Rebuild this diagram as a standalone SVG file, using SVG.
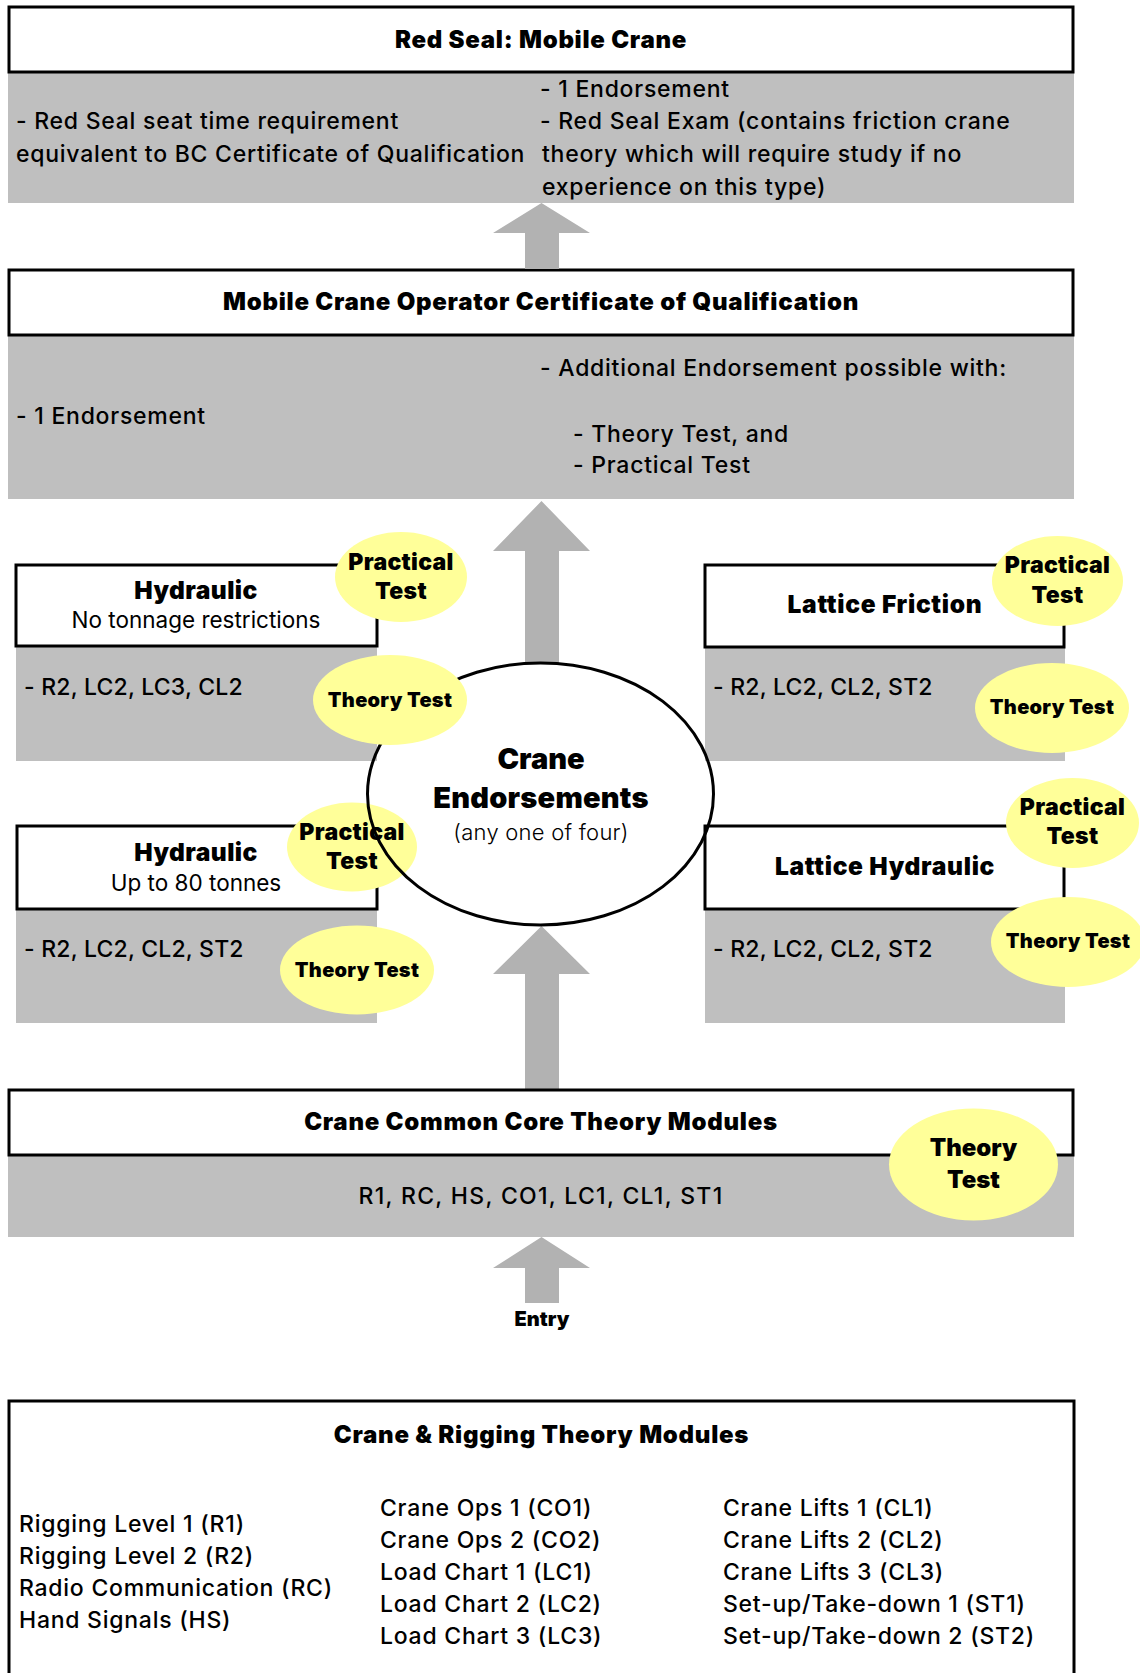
<svg xmlns="http://www.w3.org/2000/svg" width="1140" height="1673" viewBox="0 0 1140 1673">
<style>
.box{fill:#ffffff;stroke:#000000;stroke-width:3}
.gray{fill:#bfbfbf}
.arrow{fill:#b2b2b2}
.pill{fill:#ffff99}
.t{font-family:Inter,"Liberation Sans",sans-serif;font-size:23px;font-weight:500;letter-spacing:0.75px;fill:#000}
.h{font-family:Inter,"Liberation Sans",sans-serif;font-weight:900;font-size:24px;letter-spacing:0.75px;fill:#000}
.hc{text-anchor:middle}
.sub{font-family:Inter,"Liberation Sans",sans-serif;font-weight:900;font-size:24.5px;letter-spacing:0.45px;fill:#000;text-anchor:middle}
.st{font-family:Inter,"Liberation Sans",sans-serif;font-size:22.5px;fill:#000;text-anchor:middle}
.ls{font-family:Inter,"Liberation Sans",sans-serif;font-size:23px;font-weight:500;letter-spacing:0.2px;fill:#000}
.pt{font-family:Inter,"Liberation Sans",sans-serif;font-weight:900;font-size:23px;letter-spacing:0.3px;fill:#000;text-anchor:middle}
.tt{font-family:Inter,"Liberation Sans",sans-serif;font-weight:900;font-size:20px;letter-spacing:0.3px;fill:#000;text-anchor:middle}
</style>
<rect width="1140" height="1673" fill="#ffffff"/>

<g id="red-seal">
<rect class="gray" x="8" y="73" width="1066" height="130"/>
<rect class="box" x="9" y="7" width="1064" height="65"/>
<text class="h hc" x="541" y="48">Red Seal: Mobile Crane</text>
<text class="t" x="16" y="129">- Red Seal seat time requirement</text>
<text class="t" x="16" y="162">equivalent to BC Certificate of Qualification</text>
<text class="t" x="540" y="97">- 1 Endorsement</text>
<text class="t" x="540" y="129">- Red Seal Exam (contains friction crane</text>
<text class="t" x="542" y="162">theory which will require study if no</text>
<text class="t" x="542" y="195">experience on this type)</text>
</g>

<g id="certificate">
<rect class="gray" x="8" y="335" width="1066" height="164"/>
<rect class="box" x="9" y="270" width="1064" height="65"/>
<text class="h hc" x="541" y="310">Mobile Crane Operator Certificate of Qualification</text>
<text class="t" x="16" y="424">- 1 Endorsement</text>
<text class="t" x="540" y="376">- Additional Endorsement possible with:</text>
<text class="t" x="573" y="442">- Theory Test, and</text>
<text class="t" x="573" y="473">- Practical Test</text>
</g>

<g id="connectors">
<polygon class="arrow" points="541.5,203 590,233 559,233 559,269 525,269 525,233 493,233"/>
<polygon class="arrow" points="541.5,501 590,551 559,551 559,663 525,663 525,551 493,551"/>
<polygon class="arrow" points="541.5,926 590,974 559,974 559,1089 525,1089 525,974 493,974"/>
<polygon class="arrow" points="541.5,1237 590,1268 559,1268 559,1303 525,1303 525,1268 493,1268"/>
</g>

<g id="hydraulic-no-limit">
<rect class="gray" x="16" y="646" width="361" height="115"/>
<rect class="box" x="16" y="565" width="361" height="81"/>
<text class="sub" x="196" y="599">Hydraulic</text>
<text class="st" x="196" y="628">No tonnage restrictions</text>
<text class="ls" x="24" y="695">- R2, LC2, LC3, CL2</text>
</g>

<g id="hydraulic-80t">
<rect class="gray" x="16" y="909" width="361" height="114"/>
<rect class="box" x="17" y="826" width="360" height="83"/>
<text class="sub" x="196" y="861">Hydraulic</text>
<text class="st" x="196" y="891">Up to 80 tonnes</text>
<text class="ls" x="24" y="957">- R2, LC2, CL2, ST2</text>
</g>

<g id="lattice-friction">
<rect class="gray" x="705" y="647" width="360" height="114"/>
<rect class="box" x="705" y="565" width="359" height="82"/>
<text class="sub" x="885" y="613" style="letter-spacing:0.7px">Lattice Friction</text>
<text class="ls" x="713" y="695">- R2, LC2, CL2, ST2</text>
</g>

<g id="lattice-hydraulic">
<rect class="gray" x="705" y="909" width="360" height="114"/>
<rect class="box" x="705" y="826" width="359" height="83"/>
<text class="sub" x="885" y="875" style="letter-spacing:0.7px">Lattice Hydraulic</text>
<text class="ls" x="713" y="957">- R2, LC2, CL2, ST2</text>
</g>

<g id="practical-hyd-80">
<ellipse class="pill" cx="352" cy="847" rx="65" ry="44.5"/>
<text class="pt" x="352" y="840">Practical</text>
<text class="pt" x="352" y="869">Test</text>
</g>

<g id="crane-endorsements">
<ellipse cx="540.5" cy="794" rx="173" ry="131" fill="none" stroke="#000" stroke-width="3"/>
<text class="hc" x="541" y="769" style="font-family:Inter,'Liberation Sans',sans-serif;font-weight:900;font-size:29px">Crane</text>
<text class="hc" x="541" y="808" style="font-family:Inter,'Liberation Sans',sans-serif;font-weight:900;font-size:29px;letter-spacing:0.2px">Endorsements</text>
<text class="hc" x="541" y="840" style="font-family:Inter,'Liberation Sans',sans-serif;font-size:22px;font-weight:300;letter-spacing:0.25px">(any one of four)</text>
</g>

<g id="practical-hyd">
<ellipse class="pill" cx="401" cy="577" rx="66" ry="45"/>
<text class="pt" x="401" y="570">Practical</text>
<text class="pt" x="401" y="599">Test</text>
</g>
<g id="theory-hyd">
<ellipse class="pill" cx="390" cy="700" rx="77" ry="45"/>
<text class="tt" x="390" y="707">Theory Test</text>
</g>
<g id="theory-hyd-80">
<ellipse class="pill" cx="357" cy="970" rx="77" ry="44.5"/>
<text class="tt" x="357" y="977">Theory Test</text>
</g>
<g id="practical-lf">
<ellipse class="pill" cx="1057.5" cy="581" rx="65.5" ry="45"/>
<text class="pt" x="1057.5" y="573">Practical</text>
<text class="pt" x="1057.5" y="603">Test</text>
</g>
<g id="theory-lf">
<ellipse class="pill" cx="1052" cy="708" rx="77" ry="45"/>
<text class="tt" x="1052" y="714">Theory Test</text>
</g>
<g id="practical-lh">
<ellipse class="pill" cx="1072.5" cy="823" rx="66.5" ry="45"/>
<text class="pt" x="1072.5" y="815">Practical</text>
<text class="pt" x="1072.5" y="844">Test</text>
</g>
<g id="theory-lh">
<ellipse class="pill" cx="1068" cy="942" rx="77" ry="45"/>
<text class="tt" x="1068" y="948">Theory Test</text>
</g>

<g id="common-core">
<rect class="gray" x="8" y="1155" width="1066" height="82"/>
<rect class="box" x="9" y="1090" width="1064" height="65"/>
<text class="h hc" x="541" y="1130">Crane Common Core Theory Modules</text>
<text class="t hc" x="541" y="1204" style="letter-spacing:1.3px">R1, RC, HS, CO1, LC1, CL1, ST1</text>
<ellipse class="pill" cx="973.5" cy="1164.5" rx="84.5" ry="56"/>
<text class="pt" x="973.5" y="1156" style="font-size:24px;letter-spacing:0">Theory</text>
<text class="pt" x="973.5" y="1188" style="font-size:24px;letter-spacing:0">Test</text>
</g>

<g id="entry">
<text class="hc" x="542" y="1326" style="font-family:Inter,'Liberation Sans',sans-serif;font-weight:900;font-size:20px">Entry</text>
</g>

<g id="theory-modules">
<rect x="9" y="1401" width="1065" height="300" fill="#ffffff" stroke="#000" stroke-width="3"/>
<text class="h hc" x="541.5" y="1443">Crane &amp; Rigging Theory Modules</text>
<text class="t" x="19" y="1532">Rigging Level 1 (R1)</text>
<text class="t" x="19" y="1564">Rigging Level 2 (R2)</text>
<text class="t" x="19" y="1596">Radio Communication (RC)</text>
<text class="t" x="19" y="1628">Hand Signals (HS)</text>
<text class="t" x="380" y="1516">Crane Ops 1 (CO1)</text>
<text class="t" x="380" y="1548">Crane Ops 2 (CO2)</text>
<text class="t" x="380" y="1580">Load Chart 1 (LC1)</text>
<text class="t" x="380" y="1612">Load Chart 2 (LC2)</text>
<text class="t" x="380" y="1644">Load Chart 3 (LC3)</text>
<text class="t" x="723" y="1516">Crane Lifts 1 (CL1)</text>
<text class="t" x="723" y="1548">Crane Lifts 2 (CL2)</text>
<text class="t" x="723" y="1580">Crane Lifts 3 (CL3)</text>
<text class="t" x="723" y="1612">Set-up/Take-down 1 (ST1)</text>
<text class="t" x="723" y="1644">Set-up/Take-down 2 (ST2)</text>
</g>
</svg>
